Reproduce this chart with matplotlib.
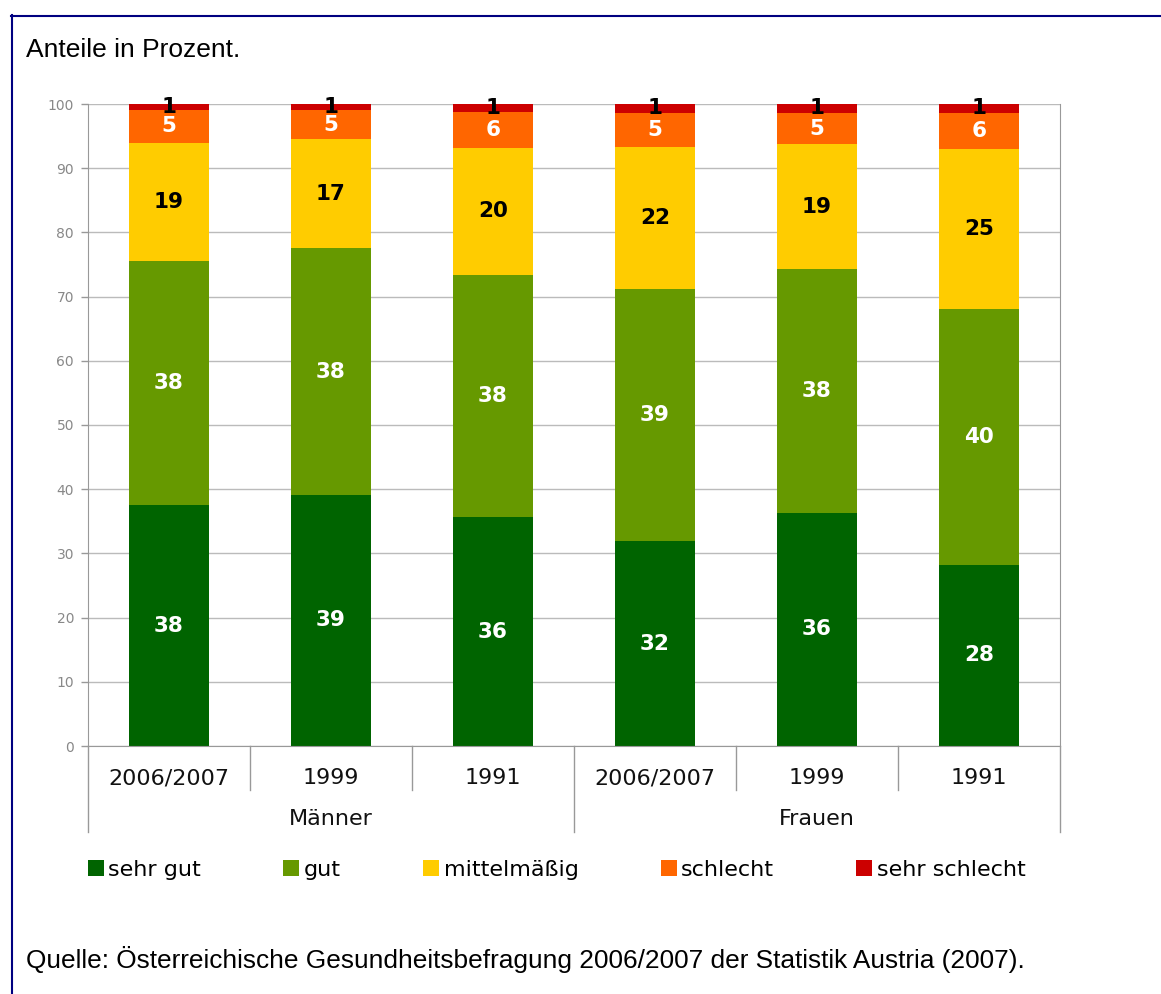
import matplotlib.pyplot as plt
from matplotlib.patches import Patch
from matplotlib.lines import Line2D
import numpy as np

# data (percent shares)
years = ['2006/2007', '1999', '1991', '2006/2007', '1999', '1991']
groups = ['Männer', 'Frauen']
categories = ['sehr gut', 'gut', 'mittelmäßig', 'schlecht', 'sehr schlecht']
sehr_gut = [37.5, 39.1, 35.6, 31.9, 36.3, 28.2]
gut = [38.0, 38.4, 37.8, 39.3, 38.0, 39.9]
mittel = [18.5, 17.0, 19.8, 22.1, 19.4, 24.9]
schlecht = [5.0, 4.6, 5.6, 5.3, 4.9, 5.6]
sehr_schlecht = [1.0, 0.9, 1.2, 1.4, 1.4, 1.4]

colors = ['#006400', '#669900', '#ffcc00', '#ff6600', '#cc0000']
label_colors = ['white', 'white', 'black', 'white', 'black']
grey = '#999999'

W, H = 1161, 994
fig = plt.figure(figsize=(W / 100, H / 100), dpi=100)
ax = fig.add_axes([88 / W, 1 - 746 / H, (1060 - 88) / W, (746 - 104) / H])

x = np.arange(len(years))
series = [sehr_gut, gut, mittel, schlecht, sehr_schlecht]
bottom = np.zeros(len(years))
for vals, col, lcol in zip(series, colors, label_colors):
    vals = np.array(vals)
    ax.bar(x, vals, 0.49, bottom=bottom, color=col, zorder=2)
    for xi, b, v in zip(x, bottom, vals):
        ax.text(xi, b + v / 2, str(int(v + 0.5)), ha='center', va='center',
                color=lcol, fontsize=15.5, fontweight='bold', zorder=3)
    bottom += vals

ax.set_xlim(-0.5, 5.5)
ax.set_ylim(0, 100)
ax.set_yticks(range(0, 101, 10))
ax.yaxis.grid(True, color='#bbbbbb', linewidth=1, zorder=0)
ax.tick_params(axis='y', colors=grey, labelsize=10, length=5, width=1, pad=5)
ax.tick_params(axis='y', labelcolor='#888888')

ax.set_xticks(x)
ax.set_xticklabels(years, fontsize=16, color='#111111')
ax.tick_params(axis='x', length=0, pad=16)

for side in ['left', 'right', 'bottom']:
    ax.spines[side].set_color(grey)
ax.spines['top'].set_visible(False)

# category separators below the axis
trans = ax.get_xaxis_transform()
short = (746 - 790) / 642
long_ = (746 - 832) / 642
for sx in [0.5, 1.5, 3.5, 4.5]:
    ax.plot([sx, sx], [0, short], transform=trans, color=grey, lw=1, clip_on=False)
for sx in [-0.5, 2.5, 5.5]:
    ax.plot([sx, sx], [0, long_], transform=trans, color=grey, lw=1, clip_on=False)
for gi, g in enumerate(groups):
    ax.text(gi * 3 + 1, (746 - 819) / 642, g, transform=trans, ha='center',
            va='center', fontsize=16, color='#111111')

handles = [Patch(facecolor=c, edgecolor='none') for c in colors]
fig.legend(handles, categories, loc='center left',
           bbox_to_anchor=(88 / W, 1 - 870 / H), ncol=5, frameon=False,
           fontsize=16, handlelength=0.72, handleheight=0.72,
           handletextpad=0.2, columnspacing=3.7, borderpad=0, borderaxespad=0)

fig.text(26 / W, 1 - 57 / H, 'Anteile in Prozent.', fontsize=19,
         family='Liberation Sans', va='baseline')
fig.text(26 / W, 1 - 968 / H,
         'Quelle: Österreichische Gesundheitsbefragung 2006/2007 der Statistik Austria (2007).',
         fontsize=18.9, family='Liberation Sans', va='baseline')

# navy frame
fig.add_artist(Line2D([11 / W, 1], [1 - 15.5 / H, 1 - 15.5 / H], color='#000080', lw=1.5))
fig.add_artist(Line2D([11.5 / W, 11.5 / W], [0, 1 - 15 / H], color='#000080', lw=1.5))

fig.savefig('out.png', dpi=100)
